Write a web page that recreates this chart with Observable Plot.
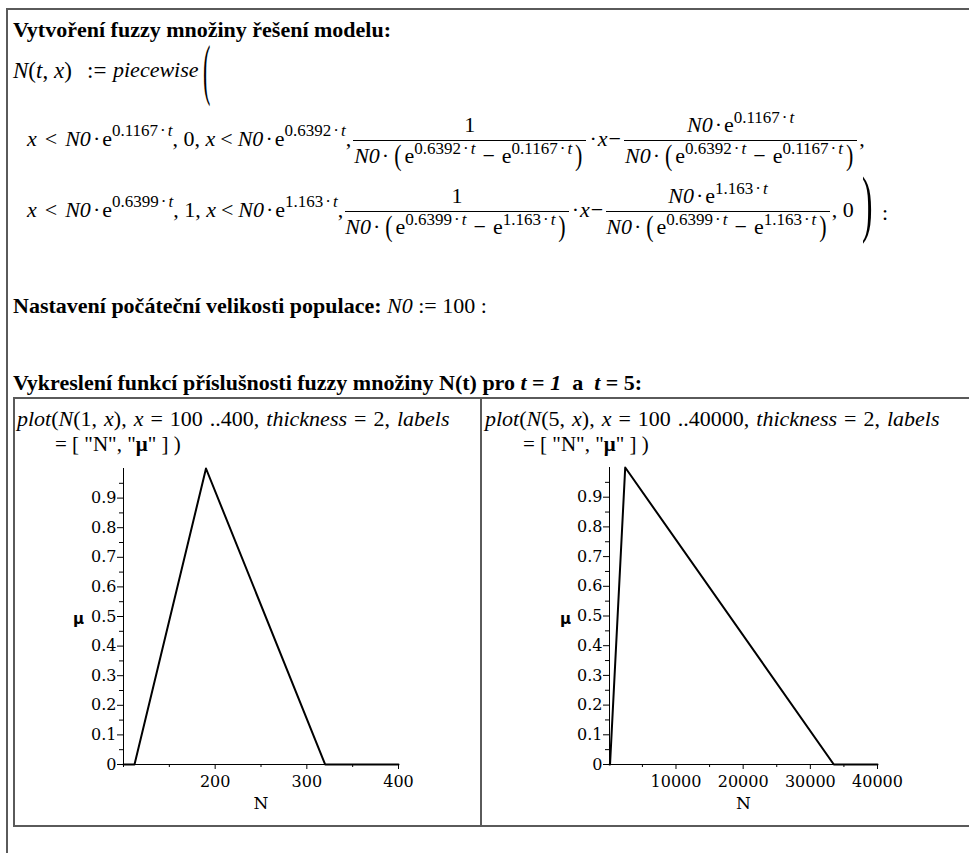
<!DOCTYPE html>
<html><head><meta charset="utf-8">
<script src="https://cdn.jsdelivr.net/npm/d3@7"></script>
<script src="https://cdn.jsdelivr.net/npm/@observablehq/plot@0.6"></script>
<style>
html,body{margin:0;padding:0;background:#fff;}
body{width:969px;height:853px;position:relative;overflow:hidden;font-family:"Liberation Serif","Times New Roman",serif;color:#000;}
.abs{position:absolute;white-space:nowrap;line-height:1;}
.h{font-weight:bold;font-size:22px;}
.m{font-size:22px;}
.p21{font-size:21px;}
.p22{font-size:22px;word-spacing:1.5px;}
sup{font-size:17px;line-height:0;vertical-align:0.55em;}
sup .d{margin:0 2px;}
.frac{display:inline-flex;flex-direction:column;align-items:center;vertical-align:middle;margin:0 2px;}
.num,.den{display:block;height:30px;line-height:30px;padding:0 1px;white-space:nowrap;}
.r2 .den{padding:0;}
.num{border-bottom:1.4px solid #000;align-self:stretch;text-align:center;}
.bp{display:inline-block;transform:scaleY(1.3);margin:0 3px;}
.lt{margin:0 8px;}
.lt2{margin:0 5px;}
.d{margin:0 2px;}
.dx{margin:0 1px;}
.mi{margin:0 7px;}
.ln{position:absolute;background:#5a5a5a;}
.chart{position:absolute;}
.big{position:absolute;line-height:0.8;transform-origin:0 0;}
.tall{position:absolute;font-size:22px;line-height:22px;height:22px;transform-origin:0 100%;transform:scaleY(3.05);}
</style></head><body>

<div class="ln" style="left:6px;top:8px;width:2px;height:845px"></div>
<div class="ln" style="left:6px;top:8px;width:963px;height:2px"></div>
<div class="ln" style="left:13px;top:397px;width:956px;height:2px"></div>
<div class="ln" style="left:13px;top:397px;width:2px;height:430px"></div>
<div class="ln" style="left:13px;top:825px;width:956px;height:2px"></div>
<div class="ln" style="left:480px;top:397px;width:2px;height:430px"></div>

<div class="abs h" style="left:13px;top:19px">Vytvoření fuzzy množiny řešení modelu:</div>
<div class="abs" style="left:13px;top:59px;font-size:23px"><i>N</i>(<i>t</i>, <i>x</i>)</div>
<div class="abs" style="left:87px;top:59px;font-size:23px">:=</div>
<div class="abs" style="left:113px;top:59px;font-size:22px"><i>piecewise</i></div>
<div class="tall" style="left:203px;top:82px">(</div>

<div class="abs m" style="left:27px;top:110px;line-height:normal"><i>x</i><span class="lt">&lt;</span><i>N0</i><span class="d">·</span>e<sup>0.1167<span class="d">·</span><i>t</i></sup>, 0, <i>x</i><span class="lt2">&lt;</span><i>N0</i><span class="d">·</span>e<sup>0.6392<span class="d">·</span><i>t</i></sup>,<span class="frac"><span class="num">1</span><span class="den"><i>N0</i><span class="d">·</span><span class="bp">(</span>e<sup>0.6392<span class="d">·</span><i>t</i></sup><span class="mi">−</span>e<sup>0.1167<span class="d">·</span><i>t</i></sup><span class="bp">)</span></span></span><span class="dx">·</span><i>x</i><span class="dx">−</span><span class="frac"><span class="num"><i>N0</i><span class="d">·</span>e<sup>0.1167<span class="d">·</span><i>t</i></sup></span><span class="den"><i>N0</i><span class="d">·</span><span class="bp">(</span>e<sup>0.6392<span class="d">·</span><i>t</i></sup><span class="mi">−</span>e<sup>0.1167<span class="d">·</span><i>t</i></sup><span class="bp">)</span></span></span>,</div>

<div class="abs m r2" style="left:27px;top:181px;line-height:normal"><i>x</i><span class="lt">&lt;</span><i>N0</i><span class="d">·</span>e<sup>0.6399<span class="d">·</span><i>t</i></sup>, 1, <i>x</i><span class="lt2">&lt;</span><i>N0</i><span class="d">·</span>e<sup>1.163<span class="d">·</span><i>t</i></sup>,<span class="frac"><span class="num">1</span><span class="den"><i>N0</i><span class="d">·</span><span class="bp">(</span>e<sup>0.6399<span class="d">·</span><i>t</i></sup><span class="mi">−</span>e<sup>1.163<span class="d">·</span><i>t</i></sup><span class="bp">)</span></span></span><span class="dx">·</span><i>x</i><span class="dx">−</span><span class="frac"><span class="num"><i>N0</i><span class="d">·</span>e<sup>1.163<span class="d">·</span><i>t</i></sup></span><span class="den"><i>N0</i><span class="d">·</span><span class="bp">(</span>e<sup>0.6399<span class="d">·</span><i>t</i></sup><span class="mi">−</span>e<sup>1.163<span class="d">·</span><i>t</i></sup><span class="bp">)</span></span></span>, 0</div>
<div class="big" style="left:862px;top:173px;font-size:75px;transform:scaleX(0.42)">)</div>
<div class="abs m" style="left:882px;top:202px">:</div>

<div class="abs h" style="left:13px;top:295px">Nastavení počáteční velikosti populace: <span style="font-weight:normal"><i>N0</i> := 100 :</span></div>
<div class="abs h" style="left:13px;top:372px">Vykreslení funkcí příslušnosti fuzzy množiny N(t) pro <i>t</i> = <i>1</i> &nbsp;a &nbsp;<i>t</i> = 5:</div>

<div class="abs p22" style="left:17px;top:408px"><i>plot</i>(<i>N</i>(1, <i>x</i>), <i>x</i> = 100 ..400, <i>thickness</i> = 2, <i>labels</i></div>
<div class="abs p21" style="left:55px;top:434px">= [ "N", "<b>μ</b>" ] )</div>
<div class="abs p22" style="left:485px;top:408px"><i>plot</i>(<i>N</i>(5, <i>x</i>), <i>x</i> = 100 ..40000, <i>thickness</i> = 2, <i>labels</i></div>
<div class="abs p21" style="left:523px;top:434px">= [ "N", "<b>μ</b>" ] )</div>

<div id="left" class="chart" style="left:13px;top:440px;width:468px"></div>
<div id="right" class="chart" style="left:481px;top:440px;width:488px"></div>

<script>
// Membership function breakpoints
const leftN = [100, 112, 190, 320, 400];
const leftMu = [0, 0, 1, 0, 0];
const rightN = [100, 180, 2440, 33500, 40000];
const rightMu = [0, 0, 1, 0, 0];
const leftXDomain = [100, 400];
const rightXDomain = [100, 40000];
const leftXTicks = [200, 300, 400];
const leftXMinor = [100, 150, 250, 350];
const rightXTicks = [10000, 20000, 30000, 40000];
const rightXMinor = [5000, 15000, 25000, 35000];
const yTicks = [0, 0.1, 0.2, 0.3, 0.4, 0.5, 0.6, 0.7, 0.8, 0.9];
const yMinor = [0.05, 0.15, 0.25, 0.35, 0.45, 0.55, 0.65, 0.75, 0.85, 0.95];
const axisLabels = ["N", "μ"];

function chart(o) {
  const data = o.N.map((n, i) => ({n, mu: o.mu[i]}));
  return Plot.plot({
    width: o.width, height: 380,
    marginLeft: o.marginLeft, marginRight: o.marginRight, marginTop: o.marginTop, marginBottom: 380 - 324,
    x: {domain: o.domain},
    y: {domain: [0, 1]},
    style: {fontFamily: "'DejaVu Serif', serif", fontSize: "16px", color: "#000", background: "transparent", overflow: "visible"},
    marks: [
      Plot.axisX(o.xMinor, {tickSize: 3, tickFormat: () => "", label: null, stroke: "#000"}),
      Plot.axisX(o.xTicks, {tickSize: 5, tickPadding: 6, tickFormat: d => String(d), label: null, stroke: "#000"}),
      Plot.axisY(yMinor, {tickSize: 4, tickFormat: () => "", label: null, stroke: "#000"}),
      Plot.axisY(yTicks, {tickSize: 6, tickPadding: 1, tickFormat: d => String(d), label: null, stroke: "#000"}),
      Plot.ruleY([0], {stroke: "#000", strokeWidth: 1}),
      Plot.ruleX([o.domain[0]], {stroke: "#000", strokeWidth: 1}),
      Plot.line(data, {x: "n", y: "mu", stroke: "#000", strokeWidth: 2}),
      Plot.text([axisLabels[0]], {text: d => d, frameAnchor: "bottom", textAnchor: "middle", lineAnchor: "middle", dy: 39, fontSize: 17}),
      Plot.text([axisLabels[1]], {text: d => d, frameAnchor: "left", textAnchor: "middle", lineAnchor: "middle", dx: o.muDx, dy: 3, fontSize: 15, fontWeight: "bold", fontFamily: "'DejaVu Sans', sans-serif"})
    ]
  });
}

document.getElementById("left").append(chart({
  N: leftN, mu: leftMu, domain: leftXDomain, xTicks: leftXTicks, xMinor: leftXMinor,
  width: 468, marginLeft: 110, marginRight: 83, marginTop: 28, muDx: -45
}));
document.getElementById("right").append(chart({
  N: rightN, mu: rightMu, domain: rightXDomain, xTicks: rightXTicks, xMinor: rightXMinor,
  width: 488, marginLeft: 128, marginRight: 92, marginTop: 27, muDx: -44
}));
</script>
</body></html>
